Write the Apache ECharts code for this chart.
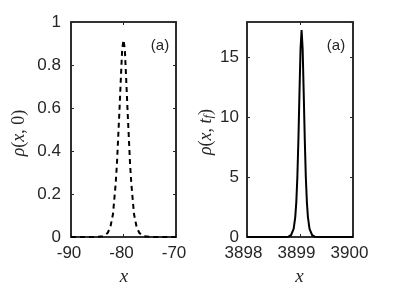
<!DOCTYPE html>
<html>
<head>
<meta charset="utf-8">
<script src="https://cdn.jsdelivr.net/npm/echarts@6/dist/echarts.min.js"></script>
<style>html,body{margin:0;padding:0;background:#fff;}#c{width:399px;height:289px;}</style>
</head>
<body>
<div id="c"></div>
<script>
// Left panel: rho(x,0), dashed
const leftX = [-90, -85, -84, -83.5, -83, -82.5, -82, -81.5, -81.25, -81, -80.75, -80.5, -80.25, -80,
               -79.75, -79.5, -79.25, -79, -78.75, -78.5, -78, -77.5, -77, -76.5, -76, -75, -70];
const leftY = [0, 0.0006, 0.0035, 0.008, 0.020, 0.046, 0.107, 0.245, 0.34, 0.47, 0.60, 0.74, 0.874, 0.916,
               0.874, 0.74, 0.60, 0.47, 0.34, 0.245, 0.107, 0.046, 0.020, 0.008, 0.0035, 0.0006, 0];
// Right panel: rho(x,t_f), solid
const rightX = [3898, 3898.7, 3898.78, 3898.83, 3898.88, 3898.91, 3898.93, 3898.95, 3898.97, 3898.99, 3899.01, 3899.03,
                3899.05, 3899.07, 3899.09, 3899.11, 3899.13, 3899.15, 3899.18, 3899.23, 3899.28, 3899.36, 3900];
const rightY = [0, 0.004, 0.031, 0.145, 0.67, 1.64, 2.89, 4.98, 8.12, 12.02, 15.67, 17.25,
                15.67, 12.02, 8.12, 4.98, 2.89, 1.64, 0.67, 0.145, 0.031, 0.004, 0];
const leftXTicks = {min: -90, max: -70, interval: 10, showMax: true};
const leftYTicks = {min: 0, max: 1, interval: 0.2, showMax: true};
const rightXTicks = {min: 3898, max: 3900, interval: 1, showMax: true};
const rightYTicks = {min: 0, max: 17.92, interval: 5, showMax: false};

const ink = '#262626';
const sans = 'Liberation Sans';
const serif = 'Liberation Serif';

function pairs(xs, ys) { return xs.map((x, i) => [x, ys[i]]); }
function fmt(v) { return String(+(+v).toFixed(6)); }

function xAx(grid, t, pos, labels, pad) {
  return {
    type: 'value', gridIndex: grid, position: pos, min: t.min, max: t.max, interval: t.interval,
    axisLine: {show: true, onZero: false, lineStyle: {color: ink, width: 1.6}},
    axisTick: {show: true, inside: true, length: 3, lineStyle: {color: ink, width: 1}},
    axisLabel: {show: labels, margin: 8, color: ink, fontFamily: sans, fontSize: 17, padding: [0, pad, 0, 0], formatter: fmt},
    splitLine: {show: false}
  };
}
function yAx(grid, t, pos, labels, margin) {
  return {
    type: 'value', gridIndex: grid, position: pos, min: t.min, max: t.max, interval: t.interval,
    axisLine: {show: true, onZero: false, lineStyle: {color: ink, width: 1.6}},
    axisTick: {show: true, inside: true, length: 3, lineStyle: {color: ink, width: 1}},
    axisLabel: {show: labels, margin: margin, color: ink, fontFamily: sans, fontSize: 17, showMaxLabel: t.showMax, formatter: fmt},
    splitLine: {show: false}
  };
}

const chart = echarts.init(document.getElementById('c'), null, {renderer: 'canvas'});
const mathRich = {
  i: {fontFamily: serif, fontStyle: 'italic', fontSize: 18, fill: ink},
  n: {fontFamily: serif, fontSize: 18, fill: ink},
  s: {fontFamily: serif, fontStyle: 'italic', fontSize: 13, fill: ink, verticalAlign: 'bottom', padding: [6, 0, 0, 0]}
};
chart.setOption({
  animation: false,
  backgroundColor: '#fff',
  grid: [
    {left: 71, top: 22, width: 105, height: 215, show: true, borderColor: ink, borderWidth: 1.6, backgroundColor: 'transparent'},
    {left: 247, top: 22, width: 106, height: 215, show: true, borderColor: ink, borderWidth: 1.6, backgroundColor: 'transparent'}
  ],
  xAxis: [
    xAx(0, leftXTicks, 'bottom', true, 4),
    xAx(0, leftXTicks, 'top', false, 0),
    xAx(1, rightXTicks, 'bottom', true, 7),
    xAx(1, rightXTicks, 'top', false, 0)
  ],
  yAxis: [
    yAx(0, leftYTicks, 'left', true, 10),
    yAx(0, leftYTicks, 'right', false, 8),
    yAx(1, rightYTicks, 'left', true, 8),
    yAx(1, rightYTicks, 'right', false, 8)
  ],
  series: [
    {type: 'line', xAxisIndex: 0, yAxisIndex: 0, data: pairs(leftX, leftY), showSymbol: false,
     lineStyle: {color: '#000', width: 2, type: [5, 4]}},
    {type: 'line', xAxisIndex: 1, yAxisIndex: 1, data: [], showSymbol: false, silent: true},
    {type: 'line', xAxisIndex: 2, yAxisIndex: 2, data: pairs(rightX, rightY), showSymbol: false,
     lineStyle: {color: '#000', width: 2, type: 'solid'}},
    {type: 'line', xAxisIndex: 3, yAxisIndex: 3, data: [], showSymbol: false, silent: true}
  ],
  graphic: [
    {type: 'text', x: 160, y: 46, style: {text: '(a)', fontFamily: sans, fontSize: 15, fill: ink, align: 'center', verticalAlign: 'middle'}},
    {type: 'text', x: 336, y: 46, style: {text: '(a)', fontFamily: sans, fontSize: 15, fill: ink, align: 'center', verticalAlign: 'middle'}},
    {type: 'text', x: 124, y: 277, style: {text: 'x', fontFamily: serif, fontStyle: 'italic', fontSize: 19, fill: ink, align: 'center', verticalAlign: 'middle'}},
    {type: 'text', x: 299.5, y: 277, style: {text: 'x', fontFamily: serif, fontStyle: 'italic', fontSize: 19, fill: ink, align: 'center', verticalAlign: 'middle'}},
    {type: 'text', x: 19, y: 133, rotation: Math.PI / 2,
     style: {text: '{i|ρ}{n|(}{i|x}{n|, 0)}', rich: mathRich, align: 'center', verticalAlign: 'middle'}},
    {type: 'text', x: 206, y: 132, rotation: Math.PI / 2,
     style: {text: '{i|ρ}{n|(}{i|x}{n|, }{i|t}{s|f}{n|)}', rich: mathRich, align: 'center', verticalAlign: 'middle'}}
  ]
});
</script>
</body>
</html>
